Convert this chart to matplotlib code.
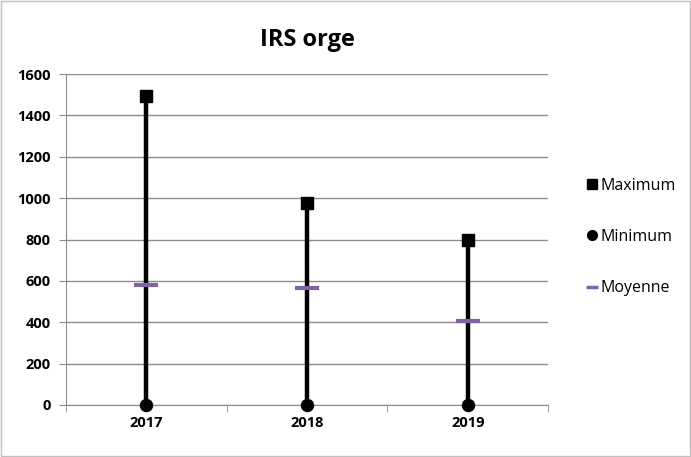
import matplotlib
matplotlib.use("Agg")
import matplotlib.pyplot as plt
from matplotlib.lines import Line2D
from matplotlib.patches import Rectangle

# ── DATA ──────────────────────────────────────────────────────────────────────
years = ["2017", "2018", "2019"]
maximum = [1495, 978, 798]
minimum = [0, 0, 0]
moyenne = [580, 567, 407]

plt.rcParams["font.family"] = ["Open Sans", "DejaVu Sans"]

fig = plt.figure(figsize=(6.91, 4.57), dpi=100)
ax = fig.add_axes([66 / 691, 1 - 405 / 457, 482 / 691, 331 / 457])

x = list(range(len(years)))
grid_col = "#8c8c8c"

# high-low lines
for xi, lo, hi in zip(x, minimum, maximum):
    ax.plot([xi, xi], [lo, hi], color="black", lw=3.2, zorder=3,
            solid_capstyle="butt")

ax.scatter(x, maximum, marker="s", s=75, color="black", zorder=4, clip_on=False)
ax.scatter(x, minimum, marker="o", s=75, color="black", zorder=4, clip_on=False)
ax.scatter(x, moyenne, marker="_", s=300, linewidths=3, color="#8064A2", zorder=5)

ax.set_xlim(-0.5, 2.5)
ax.set_ylim(0, 1600)
ax.set_yticks(range(0, 1601, 200))
ax.yaxis.grid(True, color=grid_col, lw=1)
ax.set_axisbelow(True)

ax.set_xticks(x)
ax.set_xticklabels(years, fontweight="bold", fontsize=10.5)
ax.set_xticks([-0.5, 0.5, 1.5, 2.5], minor=True)
ax.tick_params(axis="x", which="major", length=0, pad=8)
ax.tick_params(axis="x", which="minor", length=5, color=grid_col, direction="out")
ax.tick_params(axis="y", length=5, color=grid_col, labelsize=10.5, pad=6)
for lab in ax.get_yticklabels():
    lab.set_fontweight("bold")

for side in ["top", "right"]:
    ax.spines[side].set_visible(False)
ax.spines["left"].set_color(grid_col)
ax.spines["bottom"].set_color(grid_col)

fig.text(307 / 691, 1 - 40 / 457, "IRS orge", ha="center", va="center",
         fontsize=17, fontweight="bold")

handles = [
    Line2D([], [], marker="s", color="black", ls="none", markersize=7),
    Line2D([], [], marker="o", color="black", ls="none", markersize=7),
    Line2D([], [], marker="_", color="#8064A2", ls="none", markersize=9,
           markeredgewidth=2.5),
]
fig.legend(handles, ["Maximum", "Minimum", "Moyenne"], loc="center left",
           bbox_to_anchor=(572 / 691, 1 - 237 / 457), frameon=False,
           fontsize=11.5, handlelength=0.7, handletextpad=0.2, labelspacing=2.2)

# outer border
fig.patches.append(Rectangle((0.002, 0.002), 0.996, 0.996, transform=fig.transFigure,
                             fill=False, edgecolor="#bfbfbf", lw=1))

fig.savefig("out.png", dpi=100)
